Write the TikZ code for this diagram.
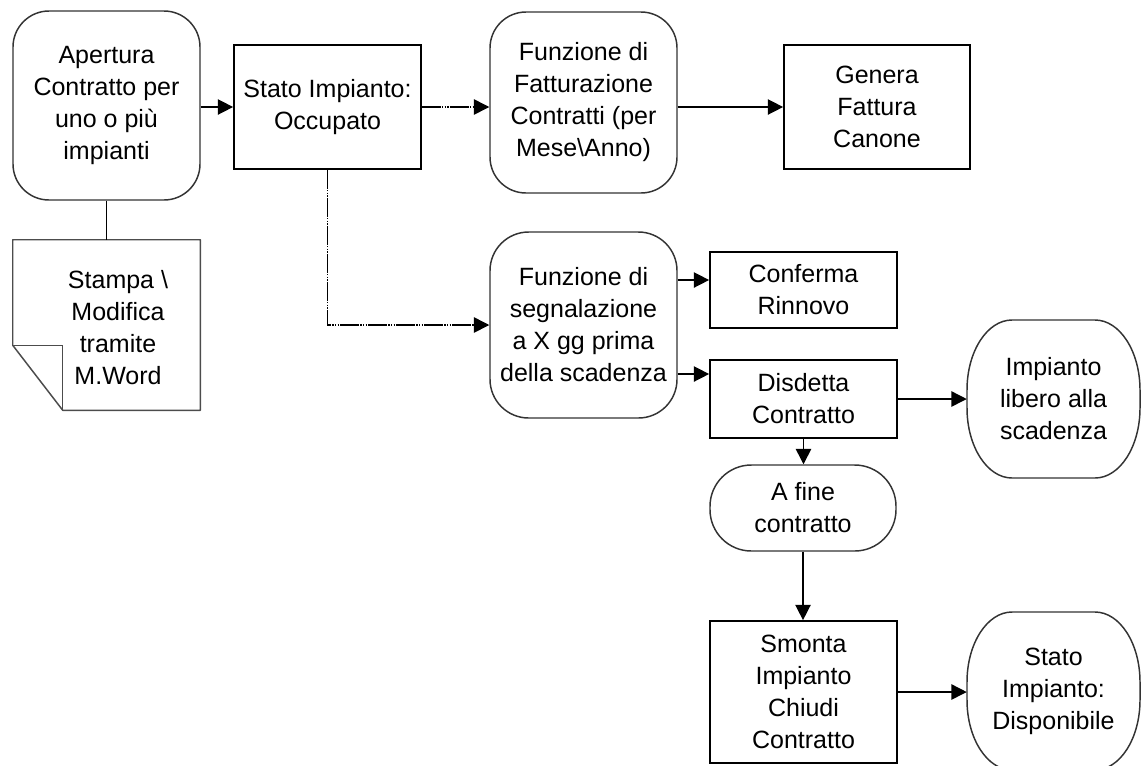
\documentclass[tikz,border=0pt]{standalone}
\usepackage{fontspec}
\setmainfont{Liberation Sans}
\usetikzlibrary{arrows.meta}
\begin{document}
\begin{tikzpicture}[x=0.75pt,y=-0.75pt,
  every node/.style={font=\fontsize{18.75pt}{24pt}\selectfont, align=center, inner sep=0pt},
  rbox/.style={draw=black, line width=1.3pt, minimum width=140.25pt},
  rnd/.style={draw=black!80, line width=1.1pt, minimum width=140.25pt, rounded corners=27pt},
  ghost/.style={minimum width=129.75pt, minimum height=118.5pt},
  tip/.style={-{Triangle[length=11.5pt,width=11.5pt]}},
  arr/.style={line width=1.1pt, tip},
  plain/.style={line width=1.1pt},
  dotline/.style={line width=1.1pt, dash pattern=on 14pt off 1pt on 1pt off 1pt on 1pt off 1pt on 1pt off 1pt},
  termshape/.style={draw=black!80, line width=1.1pt}
]
\path[use as bounding box, clip] (0,0) rectangle (1141,765);

% nodes
\node[rnd, minimum height=141.75pt] (n1) at (106.5,105.5) {Apertura\\Contratto per\\uno o più\\impianti};
\node[minimum width=140.25pt, minimum height=127.5pt] (doc) at (106.5,325) {};
\node (doctext) at (118,328) {Stampa \textbackslash\\Modifica\\tramite\\M.Word};
\node[rbox, minimum height=93pt] (n2) at (327.5,107) {Stato Impianto:\\Occupato};
\node[rnd, minimum height=135.75pt] (n3) at (583.5,102.5) {Funzione di\\Fatturazione\\Contratti (per\\Mese\textbackslash Anno)};
\node[rbox, minimum width=139.5pt, minimum height=93pt] (n4) at (877,107) {Genera\\Fattura\\Canone};
\node[rnd, rounded corners=29pt, minimum height=139.5pt] (n5) at (583.5,325) {Funzione di\\segnalazione\\a X gg prima\\della scadenza};
\node[rbox, minimum height=57pt] (n6) at (803.5,290) {Conferma\\Rinnovo};
\node[rbox, minimum height=58.5pt] (n7) at (803.5,399) {Disdetta\\Contratto};
\node[ghost] (n8) at (1053.5,399) {Impianto\\libero alla\\scadenza};
\node[rnd, rounded corners=31pt, minimum width=139.5pt, minimum height=64.5pt] (n9) at (803,508) {A fine\\contratto};
\node[rbox, minimum height=106.5pt] (n10) at (803.5,692) {Smonta\\Impianto\\Chiudi\\Contratto};
\node[ghost] (n11) at (1053.5,691) {Stato\\Impianto:\\Disponibile};

% document outline with folded corner
\draw[draw=black!70, line width=1.1pt, line join=round]
  (doc.north west) -- (doc.north east) -- (doc.south east)
  -- ([xshift=37.5pt]doc.south west) -- ([yshift=48.75pt]doc.south west) -- cycle;
\draw[draw=black!70, line width=1.1pt]
  ([yshift=48.75pt]doc.south west) -- ([xshift=37.5pt,yshift=48.75pt]doc.south west)
  -- ([xshift=37.5pt]doc.south west);

% terminal shapes with elliptic sides
\foreach \nn in {n8,n11}{
\begin{scope}[shift={(\nn.center)}]
\draw[termshape] (-41.5,-79) -- (41.5,-79)
  .. controls (66.3,-79) and (86.5,-47.6) .. (86.5,-9) -- (86.5,9)
  .. controls (86.5,47.6) and (66.3,79) .. (41.5,79) -- (-41.5,79)
  .. controls (-66.3,79) and (-86.5,47.6) .. (-86.5,9) -- (-86.5,-9)
  .. controls (-86.5,-47.6) and (-66.3,-79) .. cycle;
\end{scope}
}

% connectors
\coordinate (a6) at ([yshift=7.5pt]n6.west);
\coordinate (a7) at ([yshift=18.75pt]n7.west);
\draw[arr] (n1.east |- n2.west) -- (n2.west);
\draw[plain] (n1.south) -- (doc.north);
\draw[dotline, tip] (n2.east) -- (n2.east -| n3.west);
\draw[arr] (n3.east |- n4.west) -- (n4.west);
\draw[dotline, tip] (n2.south) |- (n5.west);
\draw[arr] (n5.east |- a6) -- (a6);
\draw[arr] (n5.east |- a7) -- (a7);
\draw[arr] (n7.east) -- (n8.west);
\draw[arr] (n7.south) -- (n7.south |- n9.north);
\draw[arr] (n9.south) -- (n9.south |- n10.north);
\draw[arr] (n10.east) -- (n10.east -| n11.west);
\end{tikzpicture}
\end{document}
